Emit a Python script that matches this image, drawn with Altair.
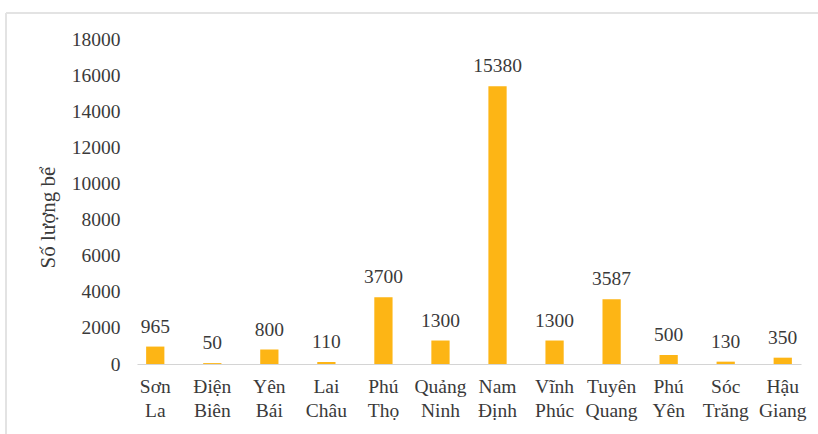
import altair as alt
import pandas as pd

provinces = ["Sơn La", "Điện Biên", "Yên Bái", "Lai Châu", "Phú Thọ", "Quảng Ninh",
             "Nam Định", "Vĩnh Phúc", "Tuyên Quang", "Phú Yên", "Sóc Trăng", "Hậu Giang"]
tanks = [965, 50, 800, 110, 3700, 1300, 15380, 1300, 3587, 500, 130, 350]
y_ticks = [0, 2000, 4000, 6000, 8000, 10000, 12000, 14000, 16000, 18000]

df = pd.DataFrame({"province": provinces, "tanks": tanks})

FONT = "Liberation Serif"
TXT = "#3a3a3a"

x_enc = alt.X("province:N", sort=provinces, title=None,
              scale=alt.Scale(paddingInner=0.68, paddingOuter=0.16),
              axis=alt.Axis(labelAngle=0, labelExpr="split(datum.label, ' ')",
                            labelFont=FONT, labelFontSize=19.5, labelColor=TXT,
                            labelLineHeight=24, labelPadding=13, ticks=False,
                            domainColor="#d4d4d4", domainWidth=1.2, labelBaseline="top"))
y_enc = alt.Y("tanks:Q", title="Số lượng bể",
              scale=alt.Scale(domain=[0, 18000], nice=False, zero=True),
              axis=alt.Axis(values=y_ticks, format="d", labelOverlap=False, tickCount=10,
                            grid=False, ticks=False, domain=False,
                            labelFont=FONT, labelFontSize=19.5, labelColor=TXT, labelPadding=17,
                            titleFont=FONT, titleFontSize=21, titleFontWeight="normal",
                            titleColor=TXT, titleX=-89, titleY=178, titleAngle=-90,
                            titleAlign="center", titleBaseline="middle"))

bars = alt.Chart(df).mark_bar(color="#FDB515").encode(x=x_enc, y=y_enc)
labels = alt.Chart(df).mark_text(font=FONT, fontSize=19.5, color=TXT, baseline="bottom", dy=-10).encode(
    x=alt.X("province:N", sort=provinces), y="tanks:Q", text="tanks:Q")

frame_top = alt.Chart(df).mark_rule(color="#e3e3e3", strokeWidth=2).encode(
    x=alt.value(-131), x2=alt.value(700), y=alt.value(-26))
frame_left = alt.Chart(df).mark_rule(color="#e3e3e3", strokeWidth=2).encode(
    x=alt.value(-131), y=alt.value(-26), y2=alt.value(400))

chart = alt.layer(frame_top, frame_left, bars, labels).properties(
    width=664, height=325,
    padding={"left": 137, "top": 39, "right": 17, "bottom": 70},
    autosize=alt.AutoSizeParams(type="none"),
    background="white",
).configure_view(stroke=None).configure_axis(labelOverlap=False, labelFont=FONT, titleFont=FONT).configure_text(font=FONT)

chart.save("out.html", embed_options={"renderer": "svg", "actions": False})
